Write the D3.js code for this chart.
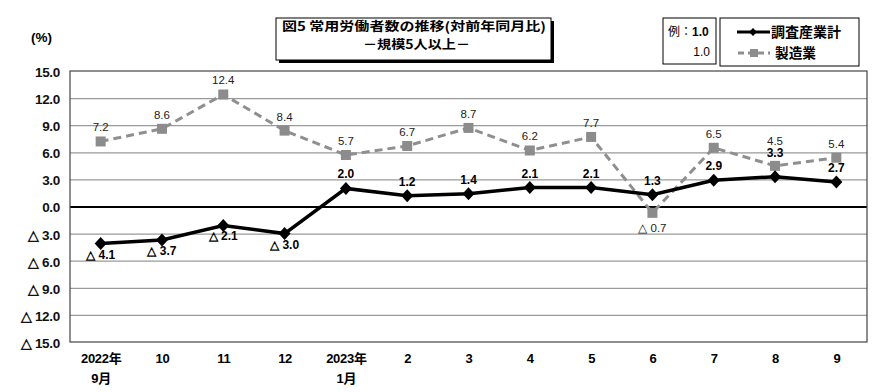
<!DOCTYPE html>
<html><head><meta charset="utf-8">
<script src="https://cdn.jsdelivr.net/npm/d3@7"></script>
<style>
body{margin:0;background:#fff;}
svg{display:block;}
</style></head>
<body>
<svg id="c" width="890" height="392"></svg>
<script>
const categories = ["2022年|9月","10","11","12","2023年|1月","2","3","4","5","6","7","8","9"];
const totalValues = [-4.1,-3.7,-2.1,-3.0,2.0,1.2,1.4,2.1,2.1,1.3,2.9,3.3,2.7];
const mfgValues = [7.2,8.6,12.4,8.4,5.7,6.7,8.7,6.2,7.7,-0.7,6.5,4.5,5.4];
const yTicks = [15,12,9,6,3,0,-3,-6,-9,-12,-15];
const titleLines = ["図5  常用労働者数の推移(対前年同月比)","－規模5人以上－"];
const seriesNames = ["調査産業計","製造業"];

const svg = d3.select("#c");
const L=70,R=867,T=71,B=342;
const jp = "'Noto Sans CJK JP','Noto Sans',sans-serif";
const num = "'Liberation Sans Narrow','Liberation Sans','Arial Narrow',sans-serif";
const arial = "'Liberation Sans',Arial,sans-serif";
const x = d3.scalePoint().domain(d3.range(categories.length)).range([L,R]).padding(0.5);
const y = d3.scaleLinear().domain([-15,15]).range([B,T]);
const fmt = v => v<0 ? "△ "+Math.abs(v).toFixed(1) : v.toFixed(1);

// grid
const yAxis = d3.axisLeft(y).tickValues(yTicks).tickSize(-(R-L)).tickFormat(fmt);
const ga = svg.append("g").attr("transform",`translate(${L},0)`).call(yAxis);
ga.select(".domain").remove();
ga.selectAll(".tick line").attr("stroke",d=>d===0?"#000":"#9a9a9a").attr("stroke-width",d=>d===0?2:1.2);
ga.selectAll(".tick text").attr("x",-10).attr("dy","0.4em").attr("fill","#111").style("font-family",arial).style("font-weight","bold").style("font-size","13.5px").style("letter-spacing","-0.3px");
ga.selectAll(".tick").filter(d=>d===15||d===-15).select("line").remove();
svg.append("rect").attr("x",L).attr("y",T).attr("width",R-L).attr("height",B-T).attr("fill","none").attr("stroke","#444").attr("stroke-width",1.2);

// x axis
const xa = svg.append("g").attr("transform",`translate(0,${B})`).call(d3.axisBottom(x).tickSize(0).tickFormat(""));
xa.select(".domain").remove();
xa.selectAll(".tick").each(function(d){
  const parts = categories[d].split("|");
  const t = d3.select(this).append("text").attr("fill","#000").attr("text-anchor","middle")
    .style("font-family",arial+","+jp).style("font-weight","bold").style("font-size","13px").style("letter-spacing","-0.3px");
  parts.forEach((p,i)=>t.append("tspan").attr("x",0).attr("y",21+i*20).text(p));
});

// (%)
svg.append("text").attr("x",31).attr("y",42).text("(%)").style("font-family",arial).style("font-weight","bold").style("font-size","13.5px");

// manufacturing line
const line = d3.line().x((d,i)=>x(i)).y(d=>y(d));
svg.append("path").datum(mfgValues).attr("d",line).attr("fill","none").attr("stroke","#8f8f8f").attr("stroke-width",3).attr("stroke-dasharray","8,5");
svg.selectAll(".sq").data(mfgValues).join("rect").attr("x",(d,i)=>x(i)-5).attr("y",d=>y(d)-5).attr("width",10).attr("height",10).attr("fill","#8c8c8c");

// total line
svg.append("path").datum(totalValues).attr("d",line).attr("fill","none").attr("stroke","#000").attr("stroke-width",3.5);
const dia = "M0,-6.5L6,0L0,6.5L-6,0Z";
svg.selectAll(".dm").data(totalValues).join("path").attr("d",dia).attr("transform",(d,i)=>`translate(${x(i)},${y(d)})`).attr("fill","#000");

// label positions (avoid collisions where the two series are close)
const close = i => totalValues[i]>0 && mfgValues[i]>0 && (mfgValues[i]-totalValues[i])<2;
const tY = (d,i) => d<0 ? y(d)+15 : (close(i) ? y(mfgValues[i])-9 : y(d)-10);
const mY = (d,i) => d<0 ? y(d)+19 : (close(i) ? tY(totalValues[i],i)-12 : y(d)-10);

svg.selectAll(".ml").data(mfgValues).join("text").attr("x",(d,i)=>x(i)).attr("y",mY)
  .attr("text-anchor","middle").text(fmt).style("font-family",num).style("font-size","11.5px").attr("fill","#222");
svg.selectAll(".tl").data(totalValues).join("text").attr("x",(d,i)=>x(i)).attr("y",tY)
  .attr("text-anchor","middle").text(fmt).style("font-family",num).style("font-weight","bold").style("font-size","12px").attr("fill","#000");

// title box
const tb = {x:276,y:18,w:275,h:42};
svg.append("rect").attr("x",tb.x+3).attr("y",tb.y+3).attr("width",tb.w).attr("height",tb.h).attr("fill","#000");
svg.append("rect").attr("x",tb.x).attr("y",tb.y).attr("width",tb.w).attr("height",tb.h).attr("fill","#fff").attr("stroke","#000").attr("stroke-width",1);
svg.append("text").attr("x",tb.x+6).attr("y",tb.y+12.5).attr("textLength",264).attr("lengthAdjust","spacingAndGlyphs").text(titleLines[0]).style("font-family",jp).style("font-weight","bold").style("font-size","12.5px");
svg.append("text").attr("x",363).attr("y",tb.y+30.5).attr("textLength",107).attr("lengthAdjust","spacingAndGlyphs").text(titleLines[1]).style("font-family",jp).style("font-weight","bold").style("font-size","12.5px");

// example box
svg.append("rect").attr("x",663).attr("y",18).attr("width",53).attr("height",46).attr("fill","#fff").attr("stroke","#000");
const ex = svg.append("text").attr("x",668).attr("y",36).style("font-size","12px");
ex.append("tspan").text("例：").style("font-family",jp);
ex.append("tspan").text("1.0").style("font-family",arial).style("font-weight","bold");
svg.append("text").attr("x",710).attr("y",56).attr("text-anchor","end").text("1.0").style("font-family",arial).style("font-size","12px");

// legend
svg.append("rect").attr("x",720).attr("y",18).attr("width",139).attr("height",48).attr("fill","#fff").attr("stroke","#000");
svg.append("line").attr("x1",737).attr("x2",770).attr("y1",32).attr("y2",32).attr("stroke","#000").attr("stroke-width",3);
svg.append("path").attr("d","M0,-4L4,0L0,4L-4,0Z").attr("transform","translate(753,32)").attr("fill","#000");
svg.append("text").attr("x",771).attr("y",37).attr("textLength",70).attr("lengthAdjust","spacingAndGlyphs").text(seriesNames[0]).style("font-family",jp).style("font-weight","bold").style("font-size","14px");
svg.append("line").attr("x1",738).attr("x2",770).attr("y1",53).attr("y2",53).attr("stroke","#8f8f8f").attr("stroke-width",3).attr("stroke-dasharray","6,4");
svg.append("rect").attr("x",750).attr("y",49).attr("width",8).attr("height",8).attr("fill","#8c8c8c");
svg.append("text").attr("x",775).attr("y",58).attr("textLength",41).attr("lengthAdjust","spacingAndGlyphs").text(seriesNames[1]).style("font-family",jp).style("font-weight","bold").style("font-size","14px");
</script>
</body></html>
